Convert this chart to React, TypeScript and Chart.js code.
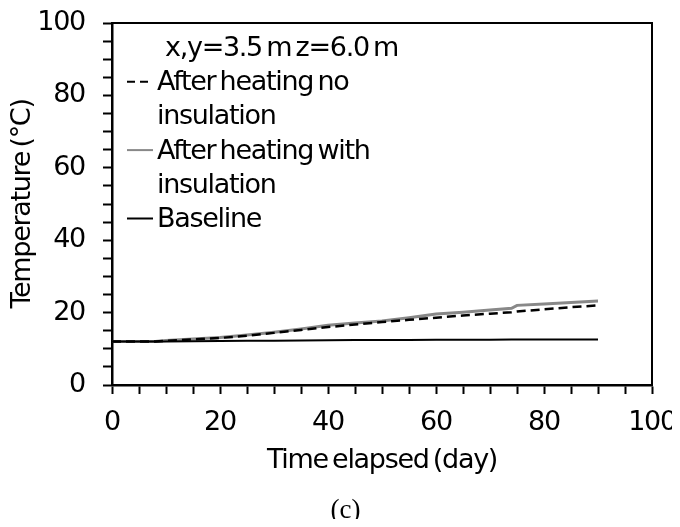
import React, { useEffect, useRef } from "react";
import { Chart, registerables } from "chart.js";

Chart.register(...registerables);

const days = [0, 5, 8, 10, 15, 20, 25, 30, 35, 40, 45, 50, 55, 60, 65, 70, 74, 75, 80, 85, 90];
const withInsulation = [12, 12, 12.05, 12.3, 12.7, 13.1, 13.8, 14.6, 15.5, 16.5, 17.1, 17.7, 18.6, 19.6, 20.1, 20.7, 21.2, 22.0, 22.4, 22.8, 23.2];
const noInsulation = [12, 12, 12, 12.2, 12.6, 13.0, 13.6, 14.4, 15.2, 16.0, 16.7, 17.4, 18.0, 18.6, 19.2, 19.7, 20.1, 20.3, 20.9, 21.5, 22.0];
const baseline = [12, 12, 12, 12.05, 12.1, 12.15, 12.2, 12.25, 12.3, 12.35, 12.4, 12.4, 12.45, 12.5, 12.5, 12.5, 12.55, 12.55, 12.55, 12.6, 12.6];

const legendHeader = "x,y=3.5 m z=6.0 m";
const legendLines = [
  { text: "After heating no", sample: "dash" },
  { text: "insulation", sample: "" },
  { text: "After heating with", sample: "gray" },
  { text: "insulation", sample: "" },
  { text: "Baseline", sample: "black" },
];
const xTitle = "Time elapsed (day)";
const yTitle = "Temperature (°C)";
const caption = "(c)";

const FONT = "'DejaVu Sans', sans-serif";
const FS = 27;
const LS = "-1.3px";
const WS = "-3px";

const pts = (ys: number[]) => days.map((d, i) => ({ x: d, y: ys[i] }));

const spacingPlugin = {
  id: "spacing",
  beforeDraw(chart: any) {
    chart.ctx.letterSpacing = LS;
    chart.ctx.wordSpacing = WS;
  },
};

const decorPlugin = {
  id: "decor",
  afterDraw(chart: any) {
    const { ctx, chartArea } = chart;
    ctx.save();
    ctx.letterSpacing = LS;
    ctx.wordSpacing = WS;
    // frame top & right
    ctx.strokeStyle = "#000";
    ctx.lineWidth = 2;
    ctx.beginPath();
    ctx.moveTo(chartArea.left, chartArea.top);
    ctx.lineTo(chartArea.right, chartArea.top);
    ctx.lineTo(chartArea.right, chartArea.bottom);
    ctx.stroke();

    // legend
    ctx.font = `${FS}px ${FONT}`;
    ctx.fillStyle = "#000";
    ctx.textBaseline = "alphabetic";
    ctx.textAlign = "left";
    const base0 = 48;
    const step = 34.2;
    ctx.fillText(legendHeader, 157, base0);
    legendLines.forEach((l, i) => {
      const by = base0 + step * (i + 1);
      ctx.fillStyle = "#000";
      ctx.fillText(l.text, 149, by);
      if (l.sample) {
        const sy = by - 8.5;
        ctx.beginPath();
        ctx.lineWidth = 2;
        if (l.sample === "dash") {
          ctx.setLineDash([8, 5]);
          ctx.strokeStyle = "#000";
        } else if (l.sample === "gray") {
          ctx.setLineDash([]);
          ctx.strokeStyle = "#888888";
        } else {
          ctx.setLineDash([]);
          ctx.strokeStyle = "#000";
        }
        ctx.moveTo(119, sy);
        ctx.lineTo(145, sy);
        ctx.stroke();
        ctx.setLineDash([]);
      }
    });

    // caption
    ctx.letterSpacing = "0px";
    ctx.wordSpacing = "0px";
    ctx.font = `27px 'Liberation Serif', 'Times New Roman', serif`;
    ctx.fillStyle = "#000";
    ctx.textAlign = "center";
    ctx.textBaseline = "middle";
    ctx.fillText(caption, 337.6, 503);
    ctx.restore();
  },
};

export default function App() {
  const ref = useRef<HTMLCanvasElement | null>(null);
  useEffect(() => {
    if (!ref.current) return;
    const chart = new Chart(ref.current, {
      type: "line",
      data: {
        datasets: [
          {
            label: "After heating no insulation",
            data: pts(noInsulation),
            borderColor: "#000",
            borderWidth: 2.5,
            borderDash: [9, 5],
            pointRadius: 0,
            tension: 0,
            order: 1,
          },
          {
            label: "After heating with insulation",
            data: pts(withInsulation),
            borderColor: "#888888",
            borderWidth: 3,
            pointRadius: 0,
            tension: 0,
            order: 2,
          },
          {
            label: "Baseline",
            data: pts(baseline),
            borderColor: "#000",
            borderWidth: 2,
            pointRadius: 0,
            tension: 0,
            order: 0,
          },
        ],
      },
      options: {
        animation: false,
        responsive: true,
        maintainAspectRatio: false,
        layout: { padding: { top: 15, right: 20, left: 0, bottom: 41.8 } },
        plugins: {
          legend: { display: false },
          tooltip: { enabled: false },
        },
        scales: {
          x: {
            type: "linear",
            min: 0,
            max: 100,
            ticks: {
              stepSize: 5,
              autoSkip: false,
              maxRotation: 0,
              padding: 12.8,
              color: "#000",
              font: { family: FONT, size: FS, lineHeight: 1.2 },
              callback: (v: any) => (Number(v) % 20 === 0 ? String(v) : ""),
            },
            grid: {
              drawOnChartArea: false,
              drawTicks: true,
              tickLength: 9,
              tickWidth: 2,
              tickColor: "#000",
            },
            border: { color: "#000", width: 2.5 },
            title: {
              display: true,
              text: xTitle,
              color: "#000",
              font: { family: FONT, size: FS, lineHeight: 1.2 },
              padding: 0,
            },
            afterFit: (s: any) => {
              s.height = 92.2;
              s.paddingLeft = 0;
              s.paddingRight = 0;
            },
          },
          y: {
            type: "linear",
            min: 0,
            max: 100,
            ticks: {
              stepSize: 5,
              autoSkip: false,
              padding: 18,
              color: "#000",
              font: { family: FONT, size: FS, lineHeight: 1.2 },
              callback: (v: any) => (Number(v) % 20 === 0 ? String(v) : ""),
            },
            grid: {
              drawOnChartArea: false,
              drawTicks: true,
              tickLength: 9,
              tickWidth: 2,
              tickColor: "#000",
            },
            border: { color: "#000", width: 2.5 },
            title: {
              display: true,
              text: yTitle,
              color: "#000",
              font: { family: FONT, size: FS, lineHeight: 1.0 },
              padding: 1,
            },
            afterFit: (s: any) => {
              s.width = 104;
              s.paddingTop = 0;
              s.paddingBottom = 0;
            },
          },
        },
      },
      plugins: [spacingPlugin, decorPlugin],
    });
    return () => chart.destroy();
  }, []);

  return (
    <div style={{ position: "relative", width: 664, height: 511 }}>
      <canvas ref={ref} />
    </div>
  );
}
